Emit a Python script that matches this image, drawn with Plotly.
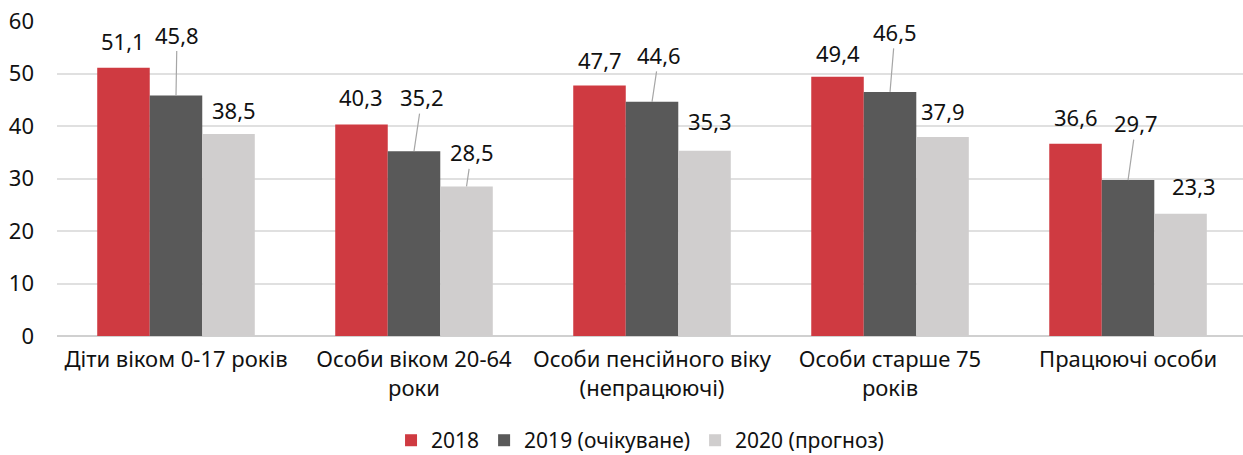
import plotly.graph_objects as go

# Data
categories = ["Діти віком 0-17 років", "Особи віком 20-64<br>роки",
              "Особи пенсійного віку<br>(непрацюючі)", "Особи старше 75<br>років",
              "Працюючі особи"]
series_names = ["2018", "2019 (очікуване)", "2020 (прогноз)"]
v2018 = [51.1, 40.3, 47.7, 49.4, 36.6]
v2019 = [45.8, 35.2, 44.6, 46.5, 29.7]
v2020 = [38.5, 28.5, 35.3, 37.9, 23.3]

colors = ["#cf3a41", "#595959", "#d0cece"]
FONT = "Noto Sans"

# label offsets in px (dx, dy) from bar top, and whether a leader line is drawn
label_style = {
    0: [(0, -27, False), (0, -27, False), (0, -26, False), (0, -24, False), (0, -27, False)],
    1: [(1, -61, True), (8, -54, True), (7, -47, True), (5, -60, True), (8, -57, True)],
    2: [(5, -24, False), (5, -34, True), (5, -30, False), (0, -26, False), (13, -28, False)],
}

bargap = 0.338
bw = (1 - bargap) / 3
xs = list(range(len(categories)))

fig = go.Figure()
all_vals = [v2018, v2019, v2020]
for k, (name, vals) in enumerate(zip(series_names, all_vals)):
    fig.add_trace(go.Bar(x=xs, y=vals, name=name, marker=dict(color=colors[k], line=dict(width=0))))

def fmt(v):
    return f"{v:.1f}".replace(".", ",")

for k, vals in enumerate(all_vals):
    for i, v in enumerate(vals):
        dx, dy, line = label_style[k][i]
        fig.add_annotation(
            x=i + (k - 1) * bw, y=v, xref="x", yref="y",
            text=fmt(v), showarrow=True, ax=dx, ay=dy,
            arrowhead=0, arrowwidth=1.2, standoff=0, startstandoff=0,
            arrowcolor="#a6a6a6" if line else "rgba(0,0,0,0)",
            font=dict(family=FONT, size=22, color="#111111"),
        )

fig.update_layout(
    width=1243, height=455,
    margin=dict(l=57, r=0, t=21, b=119, autoexpand=False),
    paper_bgcolor="white", plot_bgcolor="white",
    barmode="group", bargap=bargap, bargroupgap=0,
    font=dict(family=FONT, size=22, color="#111111"),
    showlegend=True,
    legend=dict(orientation="h", x=0.4916, xanchor="center", y=-0.332, yanchor="middle",
                font=dict(family=FONT, size=21, color="#111111"), itemwidth=30,
                traceorder="normal"),
    xaxis=dict(range=[-0.5, 4.483], tickmode="array", tickvals=xs, ticktext=categories,
               showgrid=False, showline=False, zeroline=False, ticks="", automargin=False,
               ticklabelstandoff=8, tickfont=dict(size=22)),
    yaxis=dict(range=[0, 60], dtick=10, showgrid=True, gridcolor="#e0e0e0", gridwidth=1.5,
               zeroline=True, zerolinecolor="#d0d0d0", zerolinewidth=1.5, automargin=False,
               showline=False, ticks="", ticklabelstandoff=22, tickfont=dict(size=22)),
)

# drop the browser's default body margin so the figure sits at the page corner
fig.write_html("out.html", config={"displayModeBar": False},
               post_script="document.body.style.margin='0';")
